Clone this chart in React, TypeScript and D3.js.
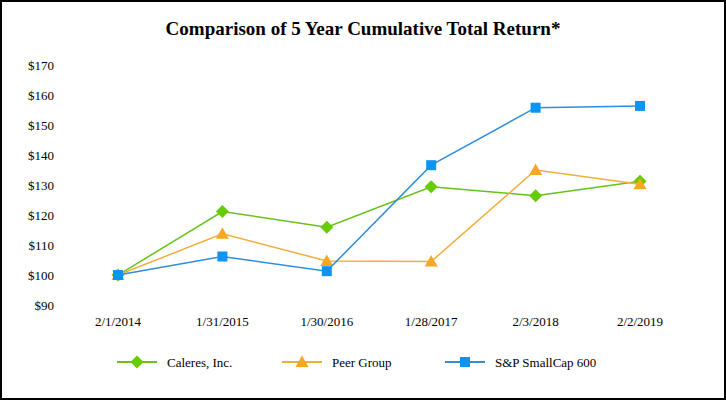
import React from 'react';
import * as d3 from 'd3';

const dates = ['2/1/2014', '1/31/2015', '1/30/2016', '1/28/2017', '2/3/2018', '2/2/2019'];
const caleres = [100, 121.2, 116, 129.5, 126.5, 131.3];
const peerGroup = [100, 113.8, 104.7, 104.5, 135.1, 130.3];
const smallCap = [100, 106.2, 101.3, 136.7, 155.9, 156.5];
const yTicks = [90, 100, 110, 120, 130, 140, 150, 160, 170];

const width = 726;
const height = 400;
const font = '"Liberation Serif", "Times New Roman", serif';

const series = [
  { name: 'Caleres, Inc.', values: caleres, color: '#66CC00', line: '#66C21A', shape: 'diamond' },
  { name: 'Peer Group', values: peerGroup, color: '#F7A823', line: '#F2AE3C', shape: 'triangle' },
  { name: 'S&P SmallCap 600', values: smallCap, color: '#0A94F5', line: '#2E8EDB', shape: 'square' },
];

if (typeof document !== 'undefined') document.body.style.margin = '0';

const Marker: React.FC<{ shape: string; x: number; y: number; color: string }> = ({ shape, x, y, color }) => {
  if (shape === 'diamond') {
    const r = 6.5;
    return <path d={`M${x},${y - r}L${x + r},${y}L${x},${y + r}L${x - r},${y}Z`} fill={color} />;
  }
  if (shape === 'triangle') {
    const r = 6.5;
    return <path d={`M${x},${y - 6.5}L${x + r},${y + 5}L${x - r},${y + 5}Z`} fill={color} />;
  }
  return <rect x={x - 5} y={y - 5} width={10} height={10} fill={color} />;
};

const App: React.FC = () => {
  const x = d3.scalePoint<string>().domain(dates).range([118, 640]);
  const y = d3.scaleLinear().domain([90, 170]).range([305, 65.5]);
  const line = d3.line<number>()
    .x((_, i) => x(dates[i]) as number)
    .y(d => y(d));

  const legendX = [117, 282, 445];

  return (
    <svg width={width} height={height} style={{ display: 'block' }} fontFamily={font}>
      <rect x={0} y={0} width={width} height={height} fill="#fff" />
      <rect x={1} y={1} width={width - 2} height={height - 2} fill="none" stroke="#000" strokeWidth={2} />
      <text x={363} y={35} textAnchor="middle" fontSize={19} fontWeight="bold">
        Comparison of 5 Year Cumulative Total Return*
      </text>
      {yTicks.map(t => (
        <text key={t} x={54} y={y(t)} dy="0.35em" textAnchor="end" fontSize={13}>
          ${t}
        </text>
      ))}
      {dates.map(d => (
        <text key={d} x={x(d)} y={326} textAnchor="middle" fontSize={13}>
          {d}
        </text>
      ))}
      {series.map(s => (
        <g key={s.name}>
          <path d={line(s.values) || ''} fill="none" stroke={s.line} strokeWidth={1.5} />
          {s.values.map((v, i) => (
            <Marker key={i} shape={s.shape} x={x(dates[i]) as number} y={y(v)} color={s.color} />
          ))}
        </g>
      ))}
      {series.map((s, i) => (
        <g key={s.name}>
          <line x1={legendX[i]} x2={legendX[i] + 40} y1={362} y2={362} stroke={s.line} strokeWidth={2} />
          <Marker shape={s.shape} x={legendX[i] + 20} y={362} color={s.color} />
          <text x={legendX[i] + 50} y={362} dy="0.35em" fontSize={13}>
            {s.name}
          </text>
        </g>
      ))}
    </svg>
  );
};

export default App;
